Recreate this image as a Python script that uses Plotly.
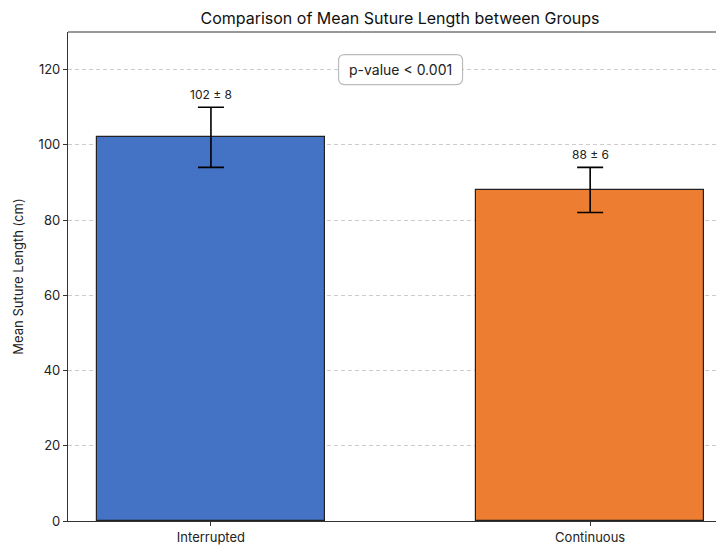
import plotly.graph_objects as go

groups = ["Interrupted", "Continuous"]
means = [102, 88]
sds = [8, 6]
colors = ["#4472C4", "#ED7D31"]
value_labels = ["102 ± 8", "88 ± 6"]
yticks = [0, 20, 40, 60, 80, 100, 120]
p_text = "p-value < 0.001"

FONT = "Inter, Roboto, sans-serif"

# page has an 8px body margin; figure is sized to fill the rest of the window
W, H = 716, 538

fig = go.Figure()
fig.add_trace(go.Bar(
    x=[0, 1], y=means, width=0.6,
    marker=dict(color=colors, line=dict(color="#222222", width=1.2)),
    error_y=dict(type="data", array=sds, visible=True, color="black", thickness=1.6, width=13),
    hoverinfo="skip", showlegend=False,
))

for i, (m, s, t) in enumerate(zip(means, sds, value_labels)):
    fig.add_annotation(x=i, y=m + s, text=t, showarrow=False, yanchor="bottom", yshift=3,
                       font=dict(family=FONT, size=12, color="#222222"))

# p-value box (rounded)
w, h, r = 124, 30, 6
path = (f"M {-w/2+r},{-h/2} L {w/2-r},{-h/2} Q {w/2},{-h/2} {w/2},{-h/2+r} "
        f"L {w/2},{h/2-r} Q {w/2},{h/2} {w/2-r},{h/2} L {-w/2+r},{h/2} "
        f"Q {-w/2},{h/2} {-w/2},{h/2-r} L {-w/2},{-h/2+r} Q {-w/2},{-h/2} {-w/2+r},{-h/2} Z")
fig.add_shape(type="path", xref="x", yref="y", xsizemode="pixel", ysizemode="pixel",
              xanchor=0.5, yanchor=120, path=path,
              fillcolor="white", line=dict(color="#BBBBBB", width=1.2), layer="above")
fig.add_annotation(x=0.5, y=120, text=p_text, showarrow=False,
                   font=dict(family=FONT, size=14, color="#222222"))

fig.update_layout(
    width=W, height=H,
    margin=dict(l=60, r=0, t=24, b=25),
    paper_bgcolor="white", plot_bgcolor="white",
    font=dict(family=FONT, color="#222222"),
    title=dict(text="Comparison of Mean Suture Length between Groups", x=392 / W, xanchor="center",
               y=1 - 10 / H, yanchor="middle", font=dict(size=16, family=FONT, color="#111111")),
    bargap=0,
)
fig.update_xaxes(range=[-0.377, 1.353], tickvals=[0, 1], ticktext=groups,
                 showline=True, linecolor="#333333", linewidth=1.2, mirror=False,
                 ticks="outside", ticklen=4, tickcolor="#333333",
                 tickfont=dict(size=13, family=FONT), showgrid=False, zeroline=False)
fig.update_yaxes(range=[0, 130], tickvals=yticks,
                 showline=True, linecolor="#333333", linewidth=1.2,
                 ticks="outside", ticklen=4, tickcolor="#333333",
                 tickfont=dict(size=13, family=FONT),
                 showgrid=True, gridcolor="#CCCCCC", griddash="4px,3px", gridwidth=1,
                 zeroline=False,
                 title=dict(text="Mean Suture Length (cm)", font=dict(size=13, family=FONT), standoff=12))
# top spine
fig.add_shape(type="line", xref="paper", yref="paper", x0=0, x1=1, y0=1, y1=1,
              line=dict(color="#333333", width=1.2))

fig.write_html("out.html")
